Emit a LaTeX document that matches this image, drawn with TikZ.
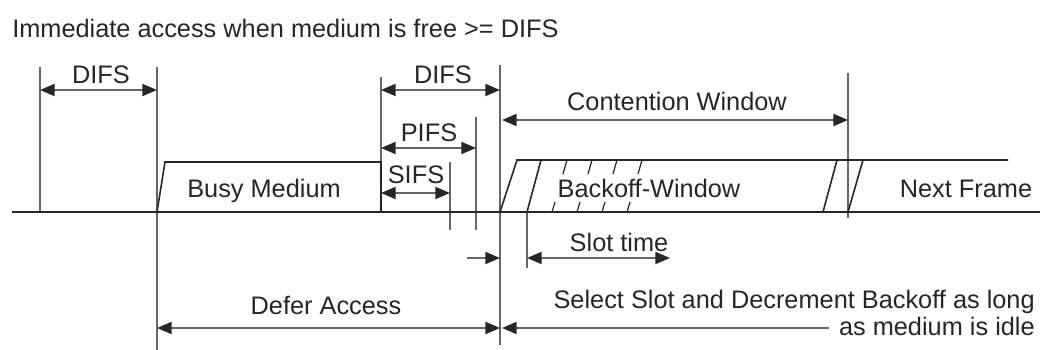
\documentclass[tikz,border=0pt]{standalone}
\usepackage{fontspec}
\setmainfont{Liberation Sans}
\usetikzlibrary{arrows.meta}

\begin{document}
\begin{tikzpicture}[
      x=0.75pt, y=-0.75pt,
      every node/.style={font=\fontsize{19}{22}\selectfont, text=black!85, inner sep=0pt},
      lbl/.style={anchor=base},
      tick/.style={draw=black!60, line width=1.5pt},
      frame/.style={draw=black!85, line width=1.2pt},
      hatch/.style={draw=black!85, line width=0.9pt},
      span/.style={{Triangle[length=11pt, width=9pt, color=black!85]}-{Triangle[length=11pt, width=9pt, color=black!85]}, draw=black!60, line width=1.5pt},
      toright/.style={-{Triangle[length=11pt, width=9pt, color=black!85]}, draw=black!60, line width=1.5pt},
      toleft/.style={{Triangle[length=11pt, width=9pt, color=black!85]}-, draw=black!60, line width=1.5pt}
    ]
      \useasboundingbox (0,0) rectangle (1040,350);

      % time axis and tick lines
      \coordinate (axisL) at (12,212);
      \coordinate (axisR) at (1040,212);
      \coordinate (idle) at (40,67);
      \coordinate (busy) at (157,67);
      \coordinate (free) at (381,77);
      \coordinate (sifs) at (450,162);
      \coordinate (pifs) at (476,117);
      \coordinate (difs) at (500,65);
      \coordinate (slot) at (527,212);
      \coordinate (cw) at (848,73);

      \draw[tick] (idle) -- (idle |- axisL);
      \draw[tick] (busy) -- (busy |- 0,352);
      \draw[tick] (free) -- (free |- axisL);
      \draw[tick] (sifs) -- (sifs |- 0,230);
      \draw[tick] (pifs) -- (pifs |- 0,230);
      \draw[tick] (difs) -- (difs |- 0,345);
      \draw[tick] (slot) -- (slot |- 0,268);
      \draw[tick] (cw) -- (cw |- 0,218);
      \draw[frame] (axisL) -- (axisR);

      % busy medium
      \draw[frame] (busy |- axisL) -- (165,162) -- (free |- 0,162) -- (free |- axisL);

      % backoff window and next frame
      \draw[frame] (difs |- axisL) -- (517,160) -- (1008,160);
      \draw[frame] (slot) -- (541,160);
      \foreach \x in {552,577,602,627} {
        \draw[hatch] (\x,212) -- (\x+3,202);
        \draw[hatch] (\x+11,174) -- (\x+15,160);
      }
      \draw[frame] (823,212) -- (837,160);
      \draw[frame] (cw |- axisL) -- (863,160);

      % labels
      \node[anchor=base west] (top) at (12,37) {Immediate access when medium is free >= DIFS};
      \node[lbl] (difsA) at (101,83) {DIFS};
      \node[lbl] (difsB) at (443,83) {DIFS};
      \node[lbl] (cwin) at (677,110) {Contention Window};
      \node[lbl] (pifsL) at (429,141) {PIFS};
      \node[lbl] (sifsL) at (416,183) {SIFS};
      \node[lbl] (busyL) at (264,197) {Busy Medium};
      \node[lbl] (backoff) at (649,197) {Backoff-Window};
      \node[lbl] (next) at (966,197) {Next Frame};
      \node[lbl] (slotL) at (619,251) {Slot time};
      \node[lbl] (defer) at (326,314) {Defer Access};
      \node[anchor=base east] (select) at (1035,308) {Select Slot and Decrement Backoff as long};
      \node[anchor=base east] (idleL) at (1035,335) {as medium is idle};

      % spans
      \draw[span] (idle |- 0,90) -- (busy |- 0,90);
      \draw[span] (free |- 0,90) -- (difs |- 0,90);
      \draw[span] (502,120) -- (cw |- 0,120);
      \draw[span] (free |- 0,148) -- (pifs |- 0,148);
      \draw[span] (free |- 0,193) -- (sifs |- 0,193);
      \draw[toright] (467,258) -- (difs |- 0,258);
      \draw[span] (slot |- 0,258) -- (670,258);
      \draw[span] (busy |- 0,328) -- (difs |- 0,328);
      \draw[toleft] (502,328) -- ([xshift=-7pt]idleL.west |- 0,328);
    \end{tikzpicture}
\end{document}
